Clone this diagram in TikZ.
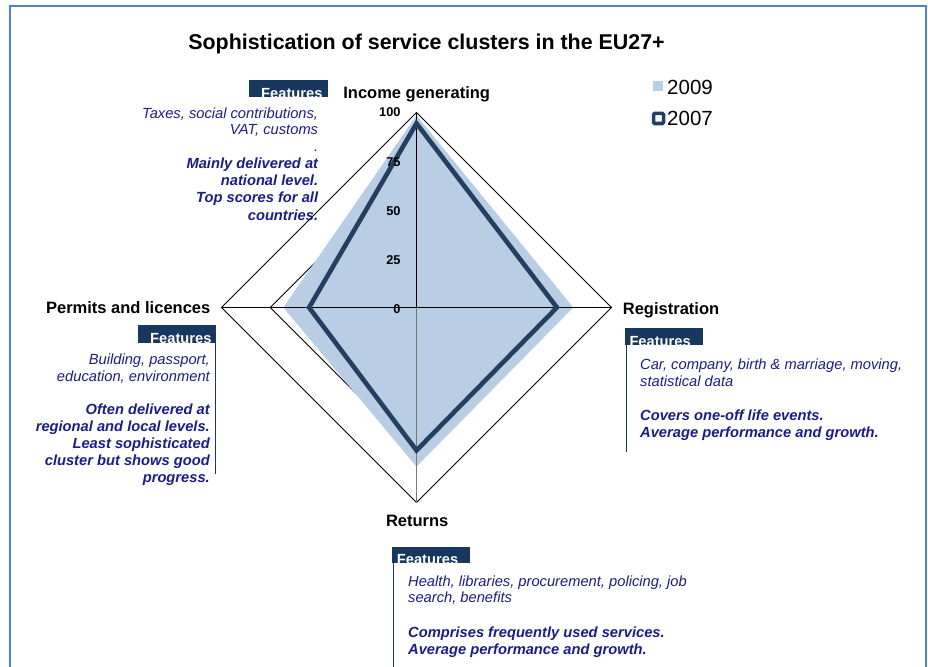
\documentclass[tikz,border=0pt]{standalone}
\usepackage{fontspec}
\setmainfont{Liberation Sans}
\definecolor{frameblue}{RGB}{79,129,200}
\definecolor{lightfill}{RGB}{185,205,229}
\definecolor{darkline}{RGB}{36,63,96}
\definecolor{tabnavy}{RGB}{23,55,94}
\definecolor{txtnavy}{RGB}{28,28,135}
\definecolor{axisgrey}{RGB}{120,120,120}
\begin{document}
\begin{tikzpicture}[x=1pt,y=-1pt,
  ttl/.style={font=\fontsize{21.4}{24}\selectfont\bfseries, inner sep=0, anchor=base},
  axlab/.style={font=\fontsize{16.5}{19}\selectfont\bfseries, inner sep=0},
  scl/.style={font=\fontsize{12.8}{15}\selectfont\bfseries, inner sep=0, anchor=base east},
  itl/.style={font=\fontsize{14.7}{17}\selectfont\itshape, text=txtnavy, inner sep=0},
  bitl/.style={font=\fontsize{14.7}{17}\selectfont\bfseries\itshape, text=txtnavy, inner sep=0},
  tabtxt/.style={font=\fontsize{14.7}{17}\selectfont\bfseries, text=white, inner sep=0, anchor=base west},
  legtxt/.style={font=\fontsize{20.5}{23}\selectfont, inner sep=0, anchor=base west},
  gridline/.style={draw=black, line width=0.8pt},
  featline/.style={draw=tabnavy, line width=1pt}]
\useasboundingbox (0,0) rectangle (928,666);
\clip (0,0) rectangle (928,666);
% frame
\draw[frameblue, line width=2pt] (9.5,6.5) rectangle (926,700);
% title
\node[ttl] (title) at (426.5,49.5) {Sophistication of service clusters in the EU27+};
% radar
\coordinate (C) at (416.5,307.5);
\foreach \f in {0.25,0.5,0.75,1}{
  \draw[gridline] (416.5,{307.5-195*\f}) -- ({416.5+195*\f},307.5) -- (416.5,{307.5+195*\f}) -- ({416.5-195*\f},307.5) -- cycle;
}
\coordinate (T) at (416.5,112.5);
\coordinate (Rt) at (611.5,307.5);
\coordinate (B) at (416.5,502.5);
\coordinate (L) at (221.5,307.5);
% 2009
\coordinate (a1) at (416.5,115.4);
\coordinate (a2) at (573.3,307.5);
\coordinate (a3) at (416.5,466.6);
\coordinate (a4) at (283.3,307.5);
\fill[lightfill] (a1) -- (a2) -- (a3) -- (a4) -- cycle;
% axes
\draw[black, line width=1pt] (L) -- (Rt);
\draw[black, line width=1.5pt] (T) -- (C);
\draw[axisgrey, line width=1.5pt] (C) -- (B);
% 2007
\coordinate (b1) at (416.5,123.4);
\coordinate (b2) at (556.9,307.5);
\coordinate (b3) at (416.5,450.4);
\coordinate (b4) at (309.1,307.5);
\draw[darkline, line width=4.6pt, line join=miter] (b1) -- (b2) -- (b3) -- (b4) -- cycle;
% scale
\node[scl] (s100) at (400.7,116.9) {100};
\node[scl] (s75) at (400.7,166) {75};
\node[scl] (s50) at (400.7,215) {50};
\node[scl] (s25) at (400.7,264.5) {25};
\node[scl] (s0) at (400.7,313.3) {0};
% axis labels
\node[axlab, anchor=base] (lInc) at (416.7,98.3) {Income generating};
\node[axlab, anchor=base west] (lReg) at (622.7,314) {Registration};
\node[axlab, anchor=base east] (lPer) at (210.5,313.5) {Permits and licences};
\node[axlab, anchor=base] (lRet) at (417.2,526.7) {Returns};
% legend
\fill[lightfill] (653,80.7) rectangle (663,90.7);
\node[legtxt] (l09) at (667,94.3) {2009};
\draw[darkline, line width=3.5pt, fill=white, rounded corners=1pt] (653.5,113.5) rectangle (663.5,123.5);
\node[legtxt] (l07) at (667,125.7) {2007};
% top-left features
\fill[tabnavy] (249,80) rectangle (328,97.5);
\node[tabtxt] (f1) at (261,98.3) {Features};
\node[itl, anchor=base east] (t1) at (318.3,118.3) {Taxes, social contributions,};
\node[itl, anchor=base east] (t2) at (318.3,135) {VAT, customs};
\node[itl, anchor=base east] (t3) at (318.3,151.7) {.};
\node[bitl, anchor=base east] (t4) at (318.3,168.3) {Mainly delivered at};
\node[bitl, anchor=base east] (t5) at (318.3,185.5) {national level.};
\node[bitl, anchor=base east] (t6) at (318.3,202.7) {Top scores for all};
\node[bitl, anchor=base east] (t7) at (318.3,220) {countries.};
% left features
\fill[tabnavy] (138,325) rectangle (216,343);
\node[tabtxt] (f2) at (150,343.8) {Features};
\draw[featline] (215,343) -- (215,474);
\node[itl, anchor=base east] (p1) at (210,364) {Building, passport,};
\node[itl, anchor=base east] (p2) at (210,381) {education, environment};
\node[bitl, anchor=base east] (p3) at (210,414) {Often delivered at};
\node[bitl, anchor=base east] (p4) at (210,431) {regional and local levels.};
\node[bitl, anchor=base east] (p5) at (210,448.3) {Least sophisticated};
\node[bitl, anchor=base east] (p6) at (210,465.7) {cluster but shows good};
\node[bitl, anchor=base east] (p7) at (210,482.7) {progress.};
% right features
\fill[tabnavy] (625,328) rectangle (703,345.3);
\node[tabtxt] (f3) at (629.3,346) {Features};
\draw[featline] (626,345) -- (626,452);
\node[itl, anchor=base west] (r1) at (640,369) {Car, company, birth \& marriage, moving,};
\node[itl, anchor=base west] (r2) at (640,386) {statistical data};
\node[bitl, anchor=base west] (r3) at (640,420.7) {Covers one-off life events.};
\node[bitl, anchor=base west] (r4) at (640,437.7) {Average performance and growth.};
% bottom features
\fill[tabnavy] (392,547) rectangle (470,563.3);
\node[tabtxt] (f4) at (396.7,564) {Features};
\draw[featline] (393,563) -- (393,670);
\node[itl, anchor=base west] (u1) at (408,586) {Health, libraries, procurement, policing, job};
\node[itl, anchor=base west] (u2) at (408,602.5) {search, benefits};
\node[bitl, anchor=base west] (u3) at (408,637) {Comprises frequently used services.};
\node[bitl, anchor=base west] (u4) at (408,654) {Average performance and growth.};
\end{tikzpicture}
\end{document}
